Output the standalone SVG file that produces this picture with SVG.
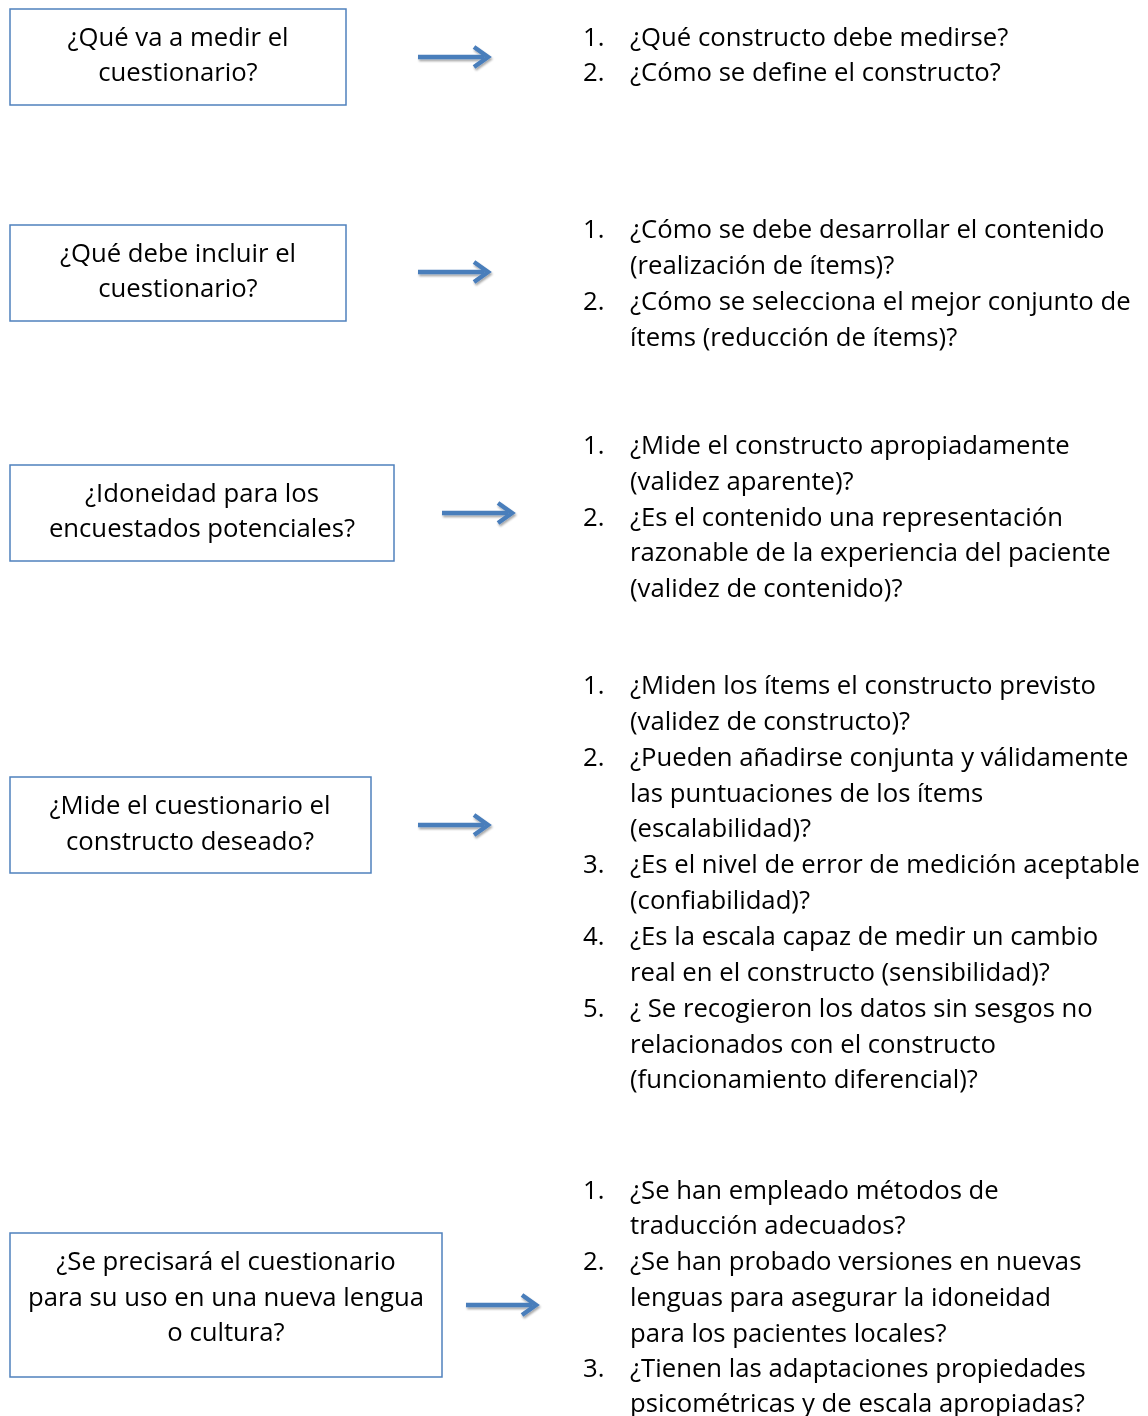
<svg xmlns="http://www.w3.org/2000/svg" width="1148" height="1416" viewBox="0 0 1148 1416">
  <defs>
    <style>
      .box { fill: #ffffff; stroke: #4F81BD; stroke-width: 1.5; }
      .t { font-family: "Open Sans", Lato, "Liberation Sans", sans-serif; font-size: 25.7px; fill: #000000; }
      .c { text-anchor: middle; }
      .arrow { fill: none; stroke: #4A7EBB; stroke-width: 4.5; stroke-linecap: butt; stroke-linejoin: miter; }
    </style>
    <filter id="soft" x="-20%" y="-50%" width="140%" height="200%">
      <feGaussianBlur in="SourceAlpha" stdDeviation="1.2"/>
      <feOffset dx="1" dy="2" result="b"/>
      <feComponentTransfer><feFuncA type="linear" slope="0.35"/></feComponentTransfer>
      <feMerge><feMergeNode/><feMergeNode in="SourceGraphic"/></feMerge>
    </filter>
    <g id="arr">
      <path class="arrow" d="M0 0 H66"/>
      <path class="arrow" d="M56 -10 L70 0 L56 10"/>
    </g>
  </defs>
  <rect width="1148" height="1416" fill="#ffffff"/>

  <!-- connectors -->
  <g id="connectors" filter="url(#soft)">
    <use href="#arr" x="418" y="57"/>
    <use href="#arr" x="418" y="272"/>
    <use href="#arr" x="442" y="513"/>
    <use href="#arr" x="418" y="825"/>
    <use href="#arr" x="466" y="1305"/>
  </g>

  <!-- questions on the left -->
  <g id="q1">
    <rect class="box" x="10" y="9" width="336" height="96"/>
    <text class="t c" x="178" y="46">¿Qué va a medir el</text>
    <text class="t c" x="178" y="81">cuestionario?</text>
  </g>
  <g id="q2">
    <rect class="box" x="10" y="225" width="336" height="96"/>
    <text class="t c" x="178" y="262">¿Qué debe incluir el</text>
    <text class="t c" x="178" y="297">cuestionario?</text>
  </g>
  <g id="q3">
    <rect class="box" x="10" y="465" width="384" height="96"/>
    <text class="t c" x="202" y="502">¿Idoneidad para los</text>
    <text class="t c" x="202" y="537">encuestados potenciales?</text>
  </g>
  <g id="q4">
    <rect class="box" x="10" y="777" width="361" height="96"/>
    <text class="t c" x="190" y="814">¿Mide el cuestionario el</text>
    <text class="t c" x="190" y="850">constructo deseado?</text>
  </g>
  <g id="q5">
    <rect class="box" x="10" y="1233" width="432" height="144"/>
    <text class="t c" x="226" y="1270">¿Se precisará el cuestionario</text>
    <text class="t c" x="226" y="1306">para su uso en una nueva lengua</text>
    <text class="t c" x="226" y="1341">o cultura?</text>
  </g>

  <!-- numbered lists on the right -->
  <g id="list1" class="t">
    <text x="583" y="46">1.</text><text x="630" y="46">¿Qué constructo debe medirse?</text>
    <text x="583" y="81">2.</text><text x="630" y="81">¿Cómo se define el constructo?</text>
  </g>
  <g id="list2" class="t">
    <text x="583" y="238">1.</text><text x="630" y="238">¿Cómo se debe desarrollar el contenido</text>
    <text x="630" y="274">(realización de ítems)?</text>
    <text x="583" y="310">2.</text><text x="630" y="310">¿Cómo se selecciona el mejor conjunto de</text>
    <text x="630" y="346">ítems (reducción de ítems)?</text>
  </g>
  <g id="list3" class="t">
    <text x="583" y="454">1.</text><text x="630" y="454">¿Mide el constructo apropiadamente</text>
    <text x="630" y="490">(validez aparente)?</text>
    <text x="583" y="526">2.</text><text x="630" y="526">¿Es el contenido una representación</text>
    <text x="630" y="561">razonable de la experiencia del paciente</text>
    <text x="630" y="597">(validez de contenido)?</text>
  </g>
  <g id="list4" class="t">
    <text x="583" y="694">1.</text><text x="630" y="694">¿Miden los ítems el constructo previsto</text>
    <text x="630" y="730">(validez de constructo)?</text>
    <text x="583" y="766">2.</text><text x="630" y="766">¿Pueden añadirse conjunta y válidamente</text>
    <text x="630" y="802">las puntuaciones de los ítems</text>
    <text x="630" y="837">(escalabilidad)?</text>
    <text x="583" y="873">3.</text><text x="630" y="873">¿Es el nivel de error de medición aceptable</text>
    <text x="630" y="909">(confiabilidad)?</text>
    <text x="583" y="945">4.</text><text x="630" y="945">¿Es la escala capaz de medir un cambio</text>
    <text x="630" y="981">real en el constructo (sensibilidad)?</text>
    <text x="583" y="1017">5.</text><text x="630" y="1017">¿ Se recogieron los datos sin sesgos no</text>
    <text x="630" y="1053">relacionados con el constructo</text>
    <text x="630" y="1088">(funcionamiento diferencial)?</text>
  </g>
  <g id="list5" class="t">
    <text x="583" y="1199">1.</text><text x="630" y="1199">¿Se han empleado métodos de</text>
    <text x="630" y="1234">traducción adecuados?</text>
    <text x="583" y="1270">2.</text><text x="630" y="1270">¿Se han probado versiones en nuevas</text>
    <text x="630" y="1306">lenguas para asegurar la idoneidad</text>
    <text x="630" y="1342">para los pacientes locales?</text>
    <text x="583" y="1377">3.</text><text x="630" y="1377">¿Tienen las adaptaciones propiedades</text>
    <text x="630" y="1412">psicométricas y de escala apropiadas?</text>
  </g>
</svg>
